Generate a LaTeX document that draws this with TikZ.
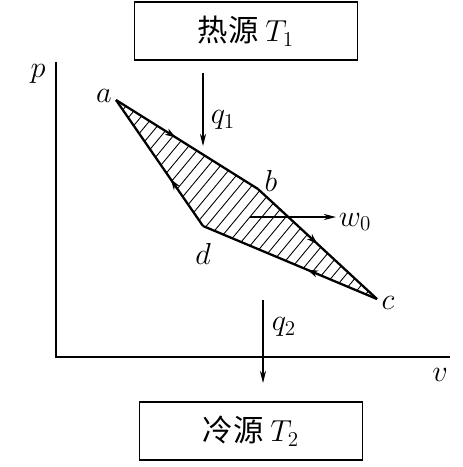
\documentclass[tikz,border=0pt]{standalone}
\usepackage{fontspec}
\newfontfamily\cjk{Noto Sans CJK SC}
\usetikzlibrary{arrows.meta,decorations.markings,positioning}

\tikzset{
  srcbox/.style={draw,line width=1pt,minimum width=4.46cm,minimum height=1.17cm,font=\cjk\LARGE},
  flow/.style={-{Stealth[length=7pt,width=3.5pt]},line width=0.6pt},
  cyc/.style={line width=1.3pt,line join=round},
  hatch/.style={line width=0.5pt},
  midarr/.style={postaction={decorate},decoration={markings,
      mark=at position #1 with {\arrow{Stealth[length=6pt,width=4pt]}}}},
  lbl/.style={inner sep=1pt,font=\LARGE}
}

\begin{document}
\begin{tikzpicture}[x=0.02cm,y=-0.02cm]
    \useasboundingbox (0,0) rectangle (463,467);

    % heat sources
    \node[srcbox] (hot) at (246,31) {热源 $T_1$};
    \node[srcbox] (cold) at (251,431) {冷源 $T_2$};

    % axes
    \coordinate (ptop) at (56,62);
    \coordinate (O) at (56,357);
    \coordinate (vend) at (450,357);
    \draw[line width=0.9pt] (ptop) -- (O) -- (vend);
    \node[lbl] (plab) at (38,74) {$p$};
    \node[lbl] (vlab) at (440,375) {$v$};

    % cycle corners
    \coordinate (a) at (116,100);
    \coordinate (b) at (258,189);
    \coordinate (c) at (377,299);
    \coordinate (d) at (203,226);

    % hatching
    \begin{scope}
        \clip (a) -- (b) -- (c) -- (d) -- cycle;
        \foreach \k in {190,202,...,650}
            \draw[hatch] (\k-0.83*320,320) -- (\k-0.83*80,80);
    \end{scope}

    \draw[cyc,midarr=0.42] (a) -- (b);
    \draw[cyc,midarr=0.5] (b) -- (c);
    \draw[cyc,midarr=0.4] (c) -- (d);
    \draw[cyc,midarr=0.37] (d) -- (a);

    \node[lbl] (alab) at (104,96) {$a$};
    \node[lbl] (blab) at (271,181) {$b$};
    \node[lbl] (clab) at (388,303) {$c$};
    \node[lbl] (dlab) at (203,254) {$d$};

    % heat and work
    \coordinate (q1s) at (203,73);
    \coordinate (q1e) at (203,146);
    \draw[flow] (q1s) -- (q1e);
    \node[lbl] (q1) at (223,120) {$q_1$};

    \coordinate (ws) at (250,217);
    \coordinate (we) at (336,217);
    \draw[flow] (ws) -- (we);
    \node[lbl] (w0) at (355,222) {$w_0$};

    \coordinate (q2s) at (263,300);
    \coordinate (q2e) at (263,383);
    \draw[flow] (q2s) -- (q2e);
    \node[lbl] (q2) at (284,327) {$q_2$};
\end{tikzpicture}
\end{document}
